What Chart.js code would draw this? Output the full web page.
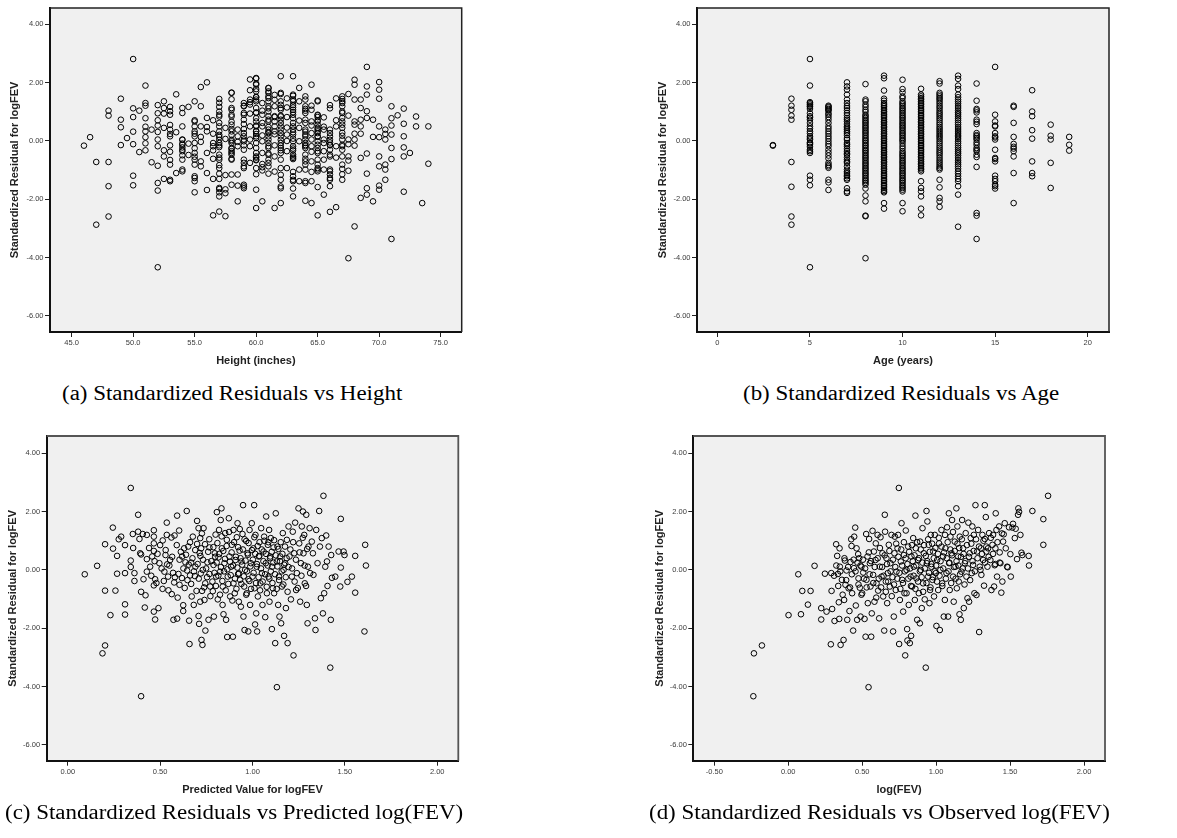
<!DOCTYPE html>
<html>
<head>
<meta charset="utf-8">
<script src="https://cdn.jsdelivr.net/npm/chart.js@4.4.1/dist/chart.umd.min.js"></script>
<style>
  html, body { margin: 0; padding: 0; background: #ffffff; }
  body { width: 1177px; height: 838px; position: relative; overflow: hidden; }
  canvas.plot { position: absolute; }
  .cap { position: absolute; white-space: nowrap; color: #000; font-family: "Liberation Serif", "Times New Roman", serif; font-size: 20px; line-height: 20px; transform-origin: 0 0; }
</style>
</head>
<body>
<canvas class="plot" id="chartHeight"></canvas>
<canvas class="plot" id="chartAge"></canvas>
<canvas class="plot" id="chartPred"></canvas>
<canvas class="plot" id="chartObs"></canvas>
<div class="cap" id="capA">(a) Standardized Residuals vs Height</div>
<div class="cap" id="capB">(b) Standardized Residuals vs Age</div>
<div class="cap" id="capC">(c) Standardized Residuals vs Predicted log(FEV)</div>
<div class="cap" id="capD">(d) Standardized Residuals vs Observed log(FEV)</div>
<script>
// ---------------- DATA ----------------
const residualTicks = [-6, -4, -2, 0, 2, 4];
const heightTicks = [45, 50, 55, 60, 65, 70, 75];
const ageTicks = [0, 5, 10, 15, 20];
const predictedTicks = [0, 0.5, 1, 1.5, 2];
const observedTicks = [-0.5, 0, 0.5, 1, 1.5, 2];

const yTitle = "Standardized Residual for logFEV";
const titleHeight = "Height (inches)";
const titleAge = "Age (years)";
const titlePred = "Predicted Value for logFEV";
const titleObs = "log(FEV)";

const heightValues = [46,46.5,47,48,49,49.5,50,50.5,51,51.5,52,52.5,53,53.5,54,54.5,55,55.5,56,56.5,57,57.5,58,58.5,59,59.5,60,60.5,61,61.5,62,62.5,63,63.5,64,64.5,65,65.5,66,66.5,67,67.5,68,68.5,69,69.5,70,70.5,71,71.5,72,72.5,73,73.5,74];
const heightResiduals = [
  [-0.16],
  [0.13],
  [-0.72,-2.87],
  [1.04,0.87,-0.72,-1.55,-2.59],
  [1.45,0.73,0.47,-0.14],
  [0.10],
  [2.81,1.12,0.82,0.32,-0.11,-1.19,-1.52],
  [1.04,-0.38],
  [1.90,1.30,1.21,0.78,0.49,0.33,0.13,-0.08,-0.32],
  [0.39,-0.73],
  [1.23,0.95,0.71,0.53,0.31,0.05,-0.18,-0.85,-1.44,-1.70,-4.33],
  [1.36,1.13,0.94,0.45,-0.32,-0.53,-1.30],
  [1.17,1.02,0.90,0.55,0.39,0.24,0.16,-0.15,-0.37,-0.65,-0.81,-1.33,-1.38],
  [1.60,0.30,-1.10],
  [1.13,0.50,0.05,-0.09,-0.22,-0.35,-0.49,-1.04,0.96,0.04,-0.13,-0.30,-0.64,-0.98],
  [1.17,-0.09,-0.48],
  [1.36,0.71,0.50,0.25,-0.07,-0.25,-0.54,-0.81,-1.21,-1.38,-1.76,0.67,0.33,0.16,-0.41,-0.64,-1.27],
  [1.85,1.19,0.50,0.14,-0.03,-0.70,-0.87],
  [2.01,0.79,0.48,0.33,-0.41,-1.10,-1.68],
  [0.71,0.25,-0.07,-0.18,-0.32,-0.61,-1.30,-2.55],
  [1.44,1.17,1.01,0.90,0.62,0.50,0.21,0.14,-0.15,-0.21,-0.57,-0.83,-1.12,-1.30,-1.65,-1.76,-1.90,-2.42,1.31,0.84,0.33,0.04,-0.07,-0.47,-0.64,-0.93,-1.61],
  [0.45,0.07,-1.17,-1.66,-1.79,-2.58],
  [1.66,1.43,1.13,0.90,0.66,0.41,0.33,0.21,-0.01,-0.27,-0.35,-0.47,-0.61,-1.15,-1.50,1.65,1.07,0.84,0.56,0.04,-0.07,-0.24,-0.41,-0.64],
  [0.39,0.16,-0.03,-0.18,-1.15,-1.53,-2.07],
  [1.21,0.96,0.58,0.41,0.16,0.05,-0.15,-0.75,-0.93,-1.50,-1.62,1.30,1.19,0.90,0.73,0.27,-0.01,-0.30,-0.64,-0.87,-1.56],
  [2.11,1.74,1.42,1.33,1.25,0.94,0.50,0.05,-0.18,-0.75],
  [2.14,1.97,1.78,1.50,1.42,0.98,0.78,0.53,0.34,0.16,0.10,-0.07,-0.53,-0.57,-0.66,-1.14,-1.67,-2.30,2.16,1.93,1.70,1.51,1.36,1.13,0.96,0.67,0.50,0.33,0.24,-0.24,-0.41,-0.64,-0.93],
  [1.30,1.04,0.90,0.62,0.50,0.19,-0.01,-0.41,-0.79,-0.90,-1.01,-2.07],
  [1.81,1.70,1.47,1.19,1.12,0.85,0.73,0.48,0.31,0.16,0.05,-0.18,-0.43,-0.47,-0.75,-0.87,-1.12,1.82,1.65,1.53,1.36,1.01,0.67,0.39,0.27,-0.07,-0.24,-0.64],
  [1.58,1.41,1.19,0.85,0.82,0.67,0.50,0.33,0.23,-0.15,-0.53,-1.05,-2.30],
  [2.22,1.61,1.36,1.13,1.07,0.87,0.73,0.50,0.27,0.16,-0.16,-0.32,-1.33,-1.62,-2.13,1.65,1.24,0.84,0.62,0.39,0.04,-0.07,-0.24,-0.41,-0.64,-0.93,-1.16,-1.56],
  [1.46,1.15,0.82,0.46,0.22,0.00,-0.35,-0.93],
  [2.22,1.55,1.42,1.23,1.15,0.99,0.78,0.50,0.30,0.08,-0.18,-0.26,-0.32,-0.53,-0.62,-1.06,-1.33,-1.63,-1.90,1.59,1.36,1.07,0.90,0.62,0.39,0.22,-0.01,-0.47,-0.58,-1.21,-1.38],
  [1.82,1.36,0.70,0.45,-0.01,-0.98,-1.38],
  [1.42,1.10,1.04,0.73,0.39,0.32,0.16,0.05,-0.14,-0.24,-0.61,-0.70,-0.98,-1.44,-2.05,1.53,1.19,0.96,0.62,0.22,-0.07,-0.18,-0.47,-0.81,-1.38],
  [1.93,1.21,1.07,0.67,0.53,0.27,0.05,-0.18,-0.37,-0.70,-1.06,-1.38,-2.13],
  [1.39,0.88,0.82,0.71,0.56,0.40,0.27,0.14,-0.13,-0.35,-0.64,-0.93,-1.04,-1.58,-2.55,1.36,0.90,0.67,0.45,0.33,0.16,-0.01,-0.24,-0.41,-0.81,-0.98],
  [0.81,0.49,0.39,0.05,-0.07,-0.35,-0.64,-0.98,-1.84],
  [1.23,1.12,0.27,0.16,-0.05,-0.15,-0.53,-1.04,-1.15,-1.33,-1.55,-2.43,0.39,0.04,-0.13,-0.30,-0.47,-0.98,-1.27],
  [1.46,0.71,0.50,-0.18,-0.57,-2.27],
  [1.44,1.30,1.19,0.96,0.79,0.56,0.18,0.05,-0.18,-0.53,-0.96,-1.14,-1.33,1.53,1.36,1.01,0.67,0.45,0.28,-0.13,-0.30,-0.81],
  [1.61,0.87,0.05,-0.11,-0.53,-0.67,-1.02,-4.02],
  [2.10,1.93,1.42,0.67,0.56,0.25,0.05,-0.16,-2.93],
  [1.42,1.13,0.73,0.50,0.25,-0.58,-1.95],
  [2.54,1.87,1.59,1.02,0.79,-0.43,-1.12,-1.62,-1.84],
  [0.73,0.14,-2.07],
  [2.02,1.76,1.45,0.50,0.13,-0.53,-0.87,-1.53,-1.67],
  [0.39,0.24,0.05,-0.81,-0.98,-1.33],
  [1.19,0.78,0.53,0.22,-0.24,-0.62,-3.36],
  [0.88],
  [1.11,0.59,0.16,-0.22,-0.53,-1.74],
  [-0.41],
  [0.84,0.50],
  [-2.13],
  [0.50,-0.78]
];

const ageValues = [3,4,5,6,7,8,9,10,11,12,13,14,15,16,17,18,19];
const ageResiduals = [
  [-0.14,-0.16],
  [1.45,1.21,1.07,0.87,0.73,-0.72,-1.57,-2.59,-2.87],
  [2.81,1.90,1.33,1.25,1.17,1.10,0.85,0.73,0.62,0.50,0.33,0.16,0.05,-0.05,-0.13,-0.30,-0.41,-1.19,-1.33,-1.52,-4.33,1.30,1.20,0.95,0.80,0.42,0.26,0.10,-0.08,-0.20,-0.35],
  [1.21,1.15,1.10,1.04,0.90,0.73,0.50,0.33,0.16,-0.01,-0.18,-0.30,-0.50,-0.75,-0.87,-1.33,-1.42,-1.68,1.18,1.07,0.95,0.82,0.62,0.42,0.25,0.08,-0.10,-0.40,-0.60,-0.82,-0.92],
  [2.01,1.87,1.76,1.59,1.42,1.30,1.13,0.96,0.79,0.67,0.50,0.39,0.27,0.10,-0.07,-0.18,-0.35,-0.47,-0.64,-0.75,-0.98,-1.10,-1.21,-1.33,-1.62,-1.73,-1.78,1.20,1.05,0.88,0.73,0.58,0.45,0.33,0.20,0.04,-0.12,-0.27,-0.42,-0.56,-0.70,-0.87,-1.05,-1.17,-1.28],
  [1.95,1.42,1.25,1.07,0.90,0.79,0.67,0.56,0.45,0.33,0.22,0.10,-0.01,-0.13,-0.24,-0.35,-0.47,-0.58,-0.70,-0.81,-0.93,-1.04,-1.15,-1.27,-1.38,-1.50,-1.63,-1.87,-2.07,-2.56,-2.58,-4.02,1.36,1.17,1.00,0.85,0.73,0.62,0.50,0.39,0.28,0.16,0.04,-0.07,-0.18,-0.30,-0.41,-0.53,-0.64,-0.76,-0.87,-0.98,-1.10,-1.21,-1.33,-1.44],
  [2.24,2.15,1.73,1.45,1.30,1.19,1.07,0.96,0.85,0.73,0.62,0.50,0.39,0.27,0.16,0.05,-0.07,-0.18,-0.30,-0.41,-0.53,-0.64,-0.75,-0.87,-0.98,-1.10,-1.21,-1.33,-1.44,-1.55,-1.67,-1.76,-2.13,-2.32,1.38,1.24,1.13,1.01,0.90,0.79,0.67,0.56,0.45,0.33,0.22,0.10,-0.01,-0.13,-0.24,-0.36,-0.47,-0.58,-0.70,-0.81,-0.93,-1.04,-1.16,-1.27,-1.38,-1.50,-1.61,-1.72],
  [2.10,1.78,1.67,1.53,1.36,1.25,1.13,1.02,0.90,0.79,0.67,0.56,0.45,0.33,0.22,0.10,-0.01,-0.18,-0.35,-0.47,-0.58,-0.70,-0.81,-0.93,-1.04,-1.15,-1.27,-1.38,-1.50,-1.61,-1.73,-2.13,-2.41,1.47,1.30,1.19,1.08,0.96,0.84,0.73,0.61,0.50,0.39,0.27,0.16,0.04,-0.09,-0.26,-0.41,-0.52,-0.64,-0.75,-0.87,-0.98,-1.10,-1.21,-1.33,-1.44,-1.56,-1.67],
  [1.79,1.59,1.47,1.36,1.25,1.13,1.02,0.90,0.79,0.67,0.56,0.45,0.33,0.22,0.10,-0.01,-0.13,-0.24,-0.35,-0.47,-0.58,-0.70,-0.81,-0.93,-1.04,-1.38,-1.61,-1.73,-1.90,-2.32,-2.55,1.53,1.42,1.30,1.19,1.07,0.96,0.85,0.73,0.62,0.50,0.39,0.27,0.16,0.04,-0.07,-0.18,-0.30,-0.41,-0.53,-0.64,-0.76,-0.87,-0.98],
  [2.05,1.97,1.65,1.53,1.42,1.28,1.13,0.98,0.85,0.71,0.56,0.41,0.27,0.14,-0.01,-0.16,-0.30,-0.43,-0.58,-0.73,-0.87,-0.98,-1.33,-1.59,-1.95,-2.07,-2.26,1.59,1.47,1.35,1.20,1.05,0.92,0.78,0.63,0.48,0.34,0.20,0.07,-0.08,-0.23,-0.37,-0.50,-0.66,-0.80,-0.93],
  [2.24,2.13,1.90,1.78,1.59,1.42,1.28,1.13,0.98,0.85,0.71,0.56,0.41,0.27,0.14,-0.01,-0.16,-0.30,-0.43,-0.58,-0.73,-0.87,-1.04,-1.21,-1.38,-1.55,-1.84,-2.94,1.50,1.35,1.20,1.05,0.92,0.78,0.63,0.48,0.34,0.20,0.07,-0.08,-0.23,-0.37,-0.50,-0.66,-0.80,-0.95,-1.12,-1.30],
  [1.97,1.38,1.10,0.98,0.73,0.58,0.27,0.16,0.05,-0.13,-0.24,-0.35,-0.47,-0.89,-2.47,-2.56,-3.36,1.05,0.66,0.20,0.10,-0.05,-0.30,-0.55],
  [2.54,0.90,0.67,0.53,0.27,0.16,-0.30,-0.58,-0.70,-1.19,-1.38,-1.50,-1.63,0.50,0.12,0.05,-0.62,-1.30,-1.55],
  [1.21,1.17,0.62,0.14,-0.10,-0.26,-0.53,-1.10,-2.13,-0.20,-0.35],
  [1.74,1.01,0.85,0.37,0.08,-0.70,-1.10,-1.21],
  [0.56,0.18,0.05,-0.75,-1.61],
  [0.14,-0.13,-0.33]
];

const predictedPoints = [
  [0.092,-0.15],[0.159,0.14],[0.202,0.88],[0.202,-0.71],[0.188,-2.86],[0.202,-2.59],[0.231,-1.55],[0.244,1.45],[0.245,0.73],[0.258,-0.71],
  [0.267,0.48],[0.267,-0.13],[0.276,1.05],[0.289,1.14],[0.31,0.85],[0.31,-0.11],[0.31,-1.18],[0.31,-1.53],[0.341,2.81],[0.341,0.32],
  [0.341,0.10],[0.352,1.23],[0.354,0.75],[0.361,-0.11],[0.361,-0.38],[0.381,1.89],[0.381,1.31],[0.388,1.06],[0.392,0.57],[0.397,0.53],
  [0.397,-4.33],[0.397,-0.75],[0.406,1.23],[0.41,-0.32],[0.417,-1.29],[0.421,-0.87],[0.428,0.37],[0.428,-0.06],[0.428,1.20],[0.446,0.11],
  [0.457,0.46],[0.466,1.36],[0.466,1.14],[0.466,0.91],[0.466,0.65],[0.466,-0.53],[0.466,-1.43],[0.473,-1.70],[0.473,-0.32],[0.486,0.55],
  [0.491,-1.31],[0.496,0.23],[0.513,-0.65],[0.514,1.01],[0.523,-0.06],[0.529,0.51],[0.536,1.62],[0.536,1.20],[0.538,0.19],[0.543,-0.23],
  [0.554,0.34],[0.561,1.11],[0.563,-0.83],[0.570,-0.10],[0.572,-1.71],[0.576,-0.43],[0.578,1.18],[0.592,-1.67],[0.592,1.86],[0.599,-0.14],
  [0.603,1.35],[0.605,-0.51],[0.619,0.46],[0.625,-1.41],[0.625,-1.21],[0.63,0.74],[0.637,0.26],[0.644,2.02],[0.646,-0.02],[0.652,0.80],
  [0.657,-1.74],[0.659,-2.54],[0.662,-0.19],[0.668,0.25],[0.671,-0.91],[0.677,1.14],[0.682,-1.20],[0.688,-0.21],[0.691,0.11],[0.700,1.68],
  [0.700,0.89],[0.708,1.43],[0.708,-1.58],[0.711,-1.85],[0.717,1.09],[0.717,-1.09],[0.718,0.48],[0.722,0.74],[0.724,-2.40],[0.729,-2.57],
  [0.727,-0.72],[0.731,0.00],[0.735,1.43],[0.740,-1.03],[0.744,-0.46],[0.745,-2.08],[0.756,0.26],[0.762,-1.71],[0.767,0.77],[0.767,-0.14],
  [0.771,-0.57],[0.785,-0.73],[0.789,0.17],[0.791,-1.60],[0.796,0.57],[0.800,1.21],[0.803,-0.23],[0.807,1.98],[0.812,-1.01],[0.816,0.43],
  [0.819,1.37],[0.825,-0.06],[0.828,1.71],[0.832,2.11],[0.834,0.74],[0.838,-1.20],[0.839,-0.57],[0.843,-1.52],[0.848,0.23],[0.852,1.26],
  [0.857,-1.71],[0.861,1.03],[0.863,-2.30],[0.866,-0.23],[0.872,1.77],[0.875,0.46],[0.879,-0.91],[0.884,0.11],[0.888,0.86],[0.894,-2.29],
  [0.897,1.37],[0.897,-0.46],[0.904,-0.80],[0.908,0.34],[0.915,1.12],[0.919,1.60],[0.922,-0.14],[0.926,-1.09],[0.930,0.66],[0.933,-0.34],
  [0.937,-1.26],[0.940,0.29],[0.946,1.23],[0.949,2.22],[0.951,-1.60],[0.955,-0.57],[0.957,-2.06],[0.960,0.00],[0.966,0.99],[0.969,-0.80],
  [0.973,0.57],[0.977,-2.11],[0.978,-0.32],[0.984,1.37],[0.987,-1.20],[0.991,0.23],[0.996,1.60],[1.000,-0.23],[1.005,0.74],[1.009,2.22],
  [1.011,-0.63],[1.014,-1.87],[1.016,1.20],[1.020,-1.49],[1.023,0.11],[1.025,-2.11],[1.029,-0.91],[1.034,0.46],[1.038,0.95],[1.042,-0.46],
  [1.047,1.43],[1.051,-0.11],[1.054,-1.20],[1.060,0.63],[1.063,1.14],[1.069,-1.62],[1.072,0.23],[1.074,1.83],[1.078,-0.80],[1.083,0.86],
  [1.087,-0.23],[1.090,1.37],[1.092,-1.09],[1.096,0.46],[1.099,1.09],[1.105,-2.03],[1.106,0.11],[1.110,-0.63],[1.114,0.77],[1.117,-0.80],
  [1.123,-2.51],[1.126,1.94],[1.132,-4.02],[1.132,0.29],[1.135,0.80],[1.139,-1.20],[1.143,-0.23],[1.146,-1.60],[1.150,0.46],[1.155,-1.83],
  [1.159,-0.57],[1.164,1.26],[1.168,0.00],[1.171,-2.26],[1.177,0.23],[1.181,-1.31],[1.186,1.03],[1.190,-2.51],[1.195,1.49],[1.200,0.46],
  [1.208,-1.01],[1.213,-0.23],[1.218,1.31],[1.222,-2.93],[1.226,0.57],[1.231,1.62],[1.236,-0.69],[1.240,-0.11],[1.249,2.11],[1.253,0.91],
  [1.258,-1.09],[1.262,0.23],[1.267,1.49],[1.273,2.00],[1.276,0.57],[1.280,1.20],[1.283,-0.46],[1.291,1.89],[1.294,-1.20],[1.298,-1.83],
  [1.300,0.11],[1.303,0.80],[1.309,1.43],[1.312,-0.11],[1.321,0.97],[1.327,0.57],[1.330,-0.17],[1.338,-1.66],[1.341,-2.06],[1.345,1.37],
  [1.352,0.23],[1.361,2.02],[1.365,0.80],[1.370,-0.97],[1.375,1.09],[1.381,-1.49],[1.384,2.54],[1.388,-0.80],[1.394,0.11],[1.399,1.18],
  [1.403,0.29],[1.406,-0.55],[1.412,0.80],[1.421,-3.35],[1.424,-1.71],[1.426,0.51],[1.430,-0.27],[1.448,-0.23],[1.466,0.63],[1.475,-0.57],
  [1.478,1.75],[1.478,0.08],[1.493,0.63],[1.498,0.51],[1.514,-0.41],[1.538,-0.23],[1.556,0.48],[1.556,-0.78],[1.606,-2.11],[1.610,0.86],
  [1.614,0.15],
  [0.44,0.75],[0.452,-0.20],[0.47,0.30],[0.48,-0.45],[0.5,0.85],[0.508,0.05],[0.52,-0.38],[0.53,0.68],[0.545,-0.70],[0.55,0.15],
  [0.565,0.45],[0.58,-0.25],[0.59,0.85],[0.595,-0.95],
  [0.605,0.35],[0.612,0.62],[0.618,-0.28],[0.626,0.05],[0.633,-0.62],[0.64,0.52],[0.648,-0.35],[0.655,0.18],[0.662,0.95],[0.668,-0.48],
  [0.675,0.40],[0.683,-0.05],[0.69,0.68],[0.697,-0.72],
  [0.703,0.20],[0.709,-0.30],[0.714,0.58],[0.72,-0.12],[0.726,1.25],[0.732,0.35],[0.738,-0.60],[0.743,0.88],[0.749,0.05],[0.754,-0.25],
  [0.76,0.62],[0.766,1.05],[0.772,-0.90],[0.777,0.30],[0.783,-0.40],[0.788,0.78],[0.794,-0.10],[0.798,0.45],
  [0.802,-0.55],[0.806,0.25],[0.81,0.92],[0.815,-0.20],[0.82,0.55],[0.824,-0.85],[0.829,0.10],[0.833,1.15],[0.837,-0.38],[0.842,0.65],
  [0.846,-0.05],[0.851,0.38],[0.855,-0.70],[0.86,0.82],[0.864,0.02],[0.869,-0.48],[0.873,1.30],[0.878,0.28],[0.882,-0.18],[0.887,0.60],
  [0.891,-1.05],[0.895,0.15],
  [0.9,0.95],[0.905,-0.30],[0.91,0.45],[0.913,-0.65],[0.918,0.08],[0.922,0.78],[0.927,-0.12],[0.931,1.40],[0.935,0.40],[0.94,-0.48],
  [0.944,0.18],[0.948,0.70],[0.953,-0.22],[0.957,1.05],[0.962,0.32],[0.966,-0.85],[0.97,-0.05],[0.975,0.52],[0.979,0.92],[0.983,-0.38],
  [0.988,0.12],[0.992,-0.65],[0.997,0.68],
  [1.002,0.35],[1.006,-0.10],[1.01,1.12],[1.015,0.55],[1.019,-0.45],[1.024,0.20],[1.028,0.82],[1.033,-0.25],[1.037,0.48],[1.041,-0.70],
  [1.046,0.05],[1.05,0.70],[1.055,-0.40],[1.059,0.30],[1.064,1.00],[1.068,-0.15],[1.073,0.55],[1.077,-0.58],[1.082,0.15],[1.086,0.95],
  [1.091,-0.30],[1.095,0.40],[1.099,-0.05],
  [1.104,0.62],[1.108,-0.45],[1.113,0.25],[1.117,1.02],[1.122,-0.15],[1.126,0.50],[1.131,-0.65],[1.135,0.12],[1.14,0.72],[1.144,-0.35],
  [1.149,0.30],[1.153,0.95],[1.158,-0.05],[1.162,0.55],[1.167,-0.50],[1.171,0.18],[1.176,0.80],[1.18,-0.25],[1.185,0.40],[1.19,-0.75],
  [1.195,0.10],
  [1.205,0.70],[1.214,0.05],[1.22,0.95],[1.228,-0.40],[1.235,0.35],[1.245,-0.62],[1.255,0.60],[1.265,-0.20],[1.272,1.10],[1.282,0.15],
  [1.29,-0.55],[1.296,0.72]
];

const observedPoints = [
  [-0.236,-4.33],[-0.232,-2.86],[-0.178,-2.59],[0.002,-1.55],[0.068,-0.15],[0.086,-1.52],[0.095,-0.72],[0.133,-1.19],[0.151,-0.72],[0.178,0.14],
  [0.223,-1.31],[0.223,-1.70],[0.248,-0.13],[0.259,-1.43],[0.288,-2.55],[0.291,-0.11],[0.293,-0.72],[0.297,-1.34],[0.313,-1.75],[0.324,0.88],
  [0.331,0.48],[0.336,-0.14],[0.342,-1.11],[0.345,-1.68],[0.347,0.74],[0.349,0.11],[0.354,-2.57],[0.363,-0.34],[0.374,-2.40],[0.378,-1.03],
  [0.383,0.32],[0.387,-0.51],[0.394,-0.02],[0.399,-1.71],[0.408,-0.63],[0.414,-1.41],[0.421,0.27],[0.426,1.05],[0.428,0.82],[0.432,-0.80],
  [0.439,-2.08],[0.444,0.06],[0.446,1.14],[0.453,1.45],[0.457,-1.22],[0.462,0.74],[0.466,-1.71],[0.473,0.54],[0.475,-0.29],[0.480,0.40],
  [0.484,-0.61],[0.489,-1.60],[0.495,0.11],[0.500,-0.80],[0.507,-0.09],[0.516,-1.68],[0.523,-2.29],[0.527,1.23],[0.529,-0.34],[0.536,0.46],
  [0.538,-1.14],[0.543,-4.02],[0.547,1.06],[0.552,0.23],[0.556,-0.57],[0.561,-2.29],[0.565,-1.49],[0.570,1.34],[0.574,-0.17],[0.579,0.63],
  [0.583,-1.09],[0.590,0.34],[0.592,0.91],[0.597,-0.46],[0.604,1.20],[0.608,-0.71],[0.615,-1.66],[0.619,0.11],[0.624,1.12],[0.631,-0.23],
  [0.637,0.57],[0.642,-0.91],[0.649,-2.08],[0.653,1.89],[0.655,1.31],[0.660,-0.40],[0.664,0.40],[0.669,-1.14],[0.673,-0.11],[0.680,0.86],
  [0.687,-0.57],[0.691,0.23],[0.698,1.20],[0.705,-0.25],[0.709,-2.11],[0.714,-1.60],[0.718,0.57],[0.721,1.14],[0.727,-0.69],[0.732,-0.06],
  [0.739,0.74],[0.743,1.20],[0.748,2.81],[0.750,-2.54],[0.755,-1.03],[0.761,0.29],[0.766,1.60],[0.770,-0.34],[0.777,-1.43],[0.782,0.51],
  [0.786,-0.80],[0.791,-2.93],[0.795,1.35],[0.800,0.00],[0.804,-2.03],[0.806,-2.42],[0.811,0.80],[0.815,-1.20],[0.822,-2.51],[0.827,-0.23],
  [0.831,-2.26],[0.833,0.46],[0.838,-0.57],[0.845,1.09],[0.849,0.11],[0.856,-1.03],[0.860,1.86],[0.863,0.74],[0.867,-0.29],[0.872,-1.71],
  [0.878,0.34],[0.883,-0.80],[0.890,-1.83],[0.892,0.97],[0.896,0.00],[0.903,-1.31],[0.908,1.43],[0.912,-0.46],[0.917,0.57],[0.923,-1.01],
  [0.930,-3.35],[0.935,2.02],[0.937,0.23],[0.941,1.66],[0.946,-0.23],[0.950,0.86],[0.955,-1.14],[0.959,-0.69],[0.964,1.20],[0.968,0.11],
  [0.975,-0.34],[0.980,0.63],[0.986,-0.91],[0.991,1.20],[0.998,-0.11],[1.002,-1.92],[1.007,0.34],[1.014,-0.69],[1.020,0.91],[1.025,-2.06],
  [1.029,0.00],[1.036,1.37],[1.041,-0.46],[1.047,0.46],[1.052,-1.60],[1.059,-1.03],[1.063,0.74],[1.070,-0.11],[1.074,1.46],[1.081,-1.60],
  [1.086,1.94],[1.088,0.23],[1.092,-0.69],[1.097,1.14],[1.104,0.57],[1.108,1.71],[1.115,-0.23],[1.119,-1.09],[1.126,0.97],[1.131,0.11],
  [1.137,2.11],[1.140,-0.63],[1.144,1.49],[1.149,0.46],[1.153,-0.40],[1.158,-1.52],[1.160,1.14],[1.167,-1.71],[1.171,-0.06],[1.176,1.71],
  [1.182,0.74],[1.187,-1.31],[1.194,0.23],[1.200,1.26],[1.205,-0.23],[1.212,-0.97],[1.218,1.62],[1.223,-1.09],[1.227,0.57],[1.234,1.09],
  [1.241,-0.11],[1.245,1.49],[1.250,0.17],[1.255,1.20],[1.259,-0.80],[1.266,2.22],[1.273,-0.86],[1.277,0.63],[1.284,1.37],[1.291,-2.13],
  [1.295,0.11],[1.302,0.74],[1.306,-0.17],[1.313,1.20],[1.318,0.34],[1.324,-0.54],[1.329,1.06],[1.329,2.22],[1.336,1.81],[1.340,0.63],
  [1.347,0.11],[1.351,0.74],[1.358,1.26],[1.367,0.34],[1.374,-0.69],[1.381,0.86],[1.385,1.20],[1.392,-0.57],[1.396,0.16],[1.401,0.74],
  [1.403,1.94],[1.408,1.37],[1.412,-0.23],[1.426,1.49],[1.430,0.25],[1.435,0.23],[1.441,-0.78],[1.448,-0.40],[1.453,0.97],[1.457,1.22],
  [1.464,1.60],[1.471,0.74],[1.480,0.11],[1.484,0.09],[1.493,1.46],[1.502,0.54],[1.505,-0.23],[1.516,1.45],[1.520,1.58],[1.532,1.09],
  [1.538,1.41],[1.547,0.37],[1.554,1.89],[1.556,2.11],[1.561,1.99],[1.570,1.20],[1.577,0.59],[1.583,0.51],[1.626,0.48],[1.628,0.15],
  [1.651,2.02],[1.725,1.74],[1.725,0.86],[1.757,2.54],
  [0.31,-0.20],[0.325,0.15],[0.338,-0.55],[0.352,-0.05],[0.368,-0.85],[0.38,0.40],[0.392,-0.35],[0.405,0.10],[0.418,-0.60],[0.43,-0.15],
  [0.442,0.35],
  [0.455,-0.05],[0.468,0.25],[0.475,-0.50],[0.488,0.15],[0.495,-0.85],[0.505,0.35],[0.512,-0.30],[0.52,0.05],[0.53,-0.60],[0.545,0.60],
  [0.55,-0.15],[0.56,0.30],[0.575,-0.45],[0.585,0.10],[0.595,-0.95],
  [0.605,0.40],[0.612,-0.30],[0.62,0.75],[0.628,-0.60],[0.635,0.10],[0.645,-0.20],[0.652,0.50],[0.66,-0.75],[0.668,0.20],[0.676,-0.40],
  [0.684,0.65],[0.692,-0.05],[0.70,-0.90],[0.708,0.35],[0.715,-0.50],[0.724,0.10],[0.73,0.90],[0.738,-0.30],[0.745,0.45],
  [0.752,-0.10],[0.758,-0.65],[0.764,0.70],[0.77,0.15],[0.776,-0.45],[0.782,0.95],[0.788,-0.05],[0.794,0.40],[0.80,-0.80],[0.806,0.20],
  [0.812,-0.30],[0.818,0.62],[0.824,0.05],[0.83,-0.55],[0.836,0.85],[0.842,0.30],[0.848,-0.20],[0.854,0.50],[0.86,-0.65],[0.866,0.15],
  [0.872,0.95],[0.878,-0.40],[0.884,0.40],[0.89,-0.05],[0.896,0.70],
  [0.902,-0.25],[0.907,0.25],[0.912,-0.75],[0.918,0.85],[0.924,0.05],[0.93,0.48],[0.935,-0.45],[0.94,0.30],[0.946,1.05],[0.952,-0.10],
  [0.957,0.62],[0.962,-0.60],[0.968,0.20],[0.973,0.90],[0.978,-0.25],[0.984,0.40],[0.99,-0.05],[0.995,0.75],[1.0,0.15],[1.006,-0.40],
  [1.012,0.55],[1.018,1.10],[1.023,-0.20],[1.03,0.30],[1.036,0.80],[1.042,-0.55],[1.048,0.05],
  [1.054,0.60],[1.06,1.20],[1.066,-0.30],[1.072,0.40],[1.078,0.95],[1.084,-0.05],[1.09,0.25],[1.096,0.70],[1.102,-0.45],[1.108,0.50],
  [1.114,1.30],[1.12,0.10],[1.126,0.65],[1.132,-0.30],[1.138,0.30],[1.144,0.90],[1.15,0.15],[1.156,0.75],[1.162,-0.15],[1.168,0.45],
  [1.174,1.05],[1.18,0.05],[1.186,0.55],[1.192,-0.50],[1.198,0.30],
  [1.208,0.85],[1.215,0.05],[1.222,0.45],[1.23,-0.35],[1.238,0.90],[1.246,0.30],[1.254,0.65],[1.262,-0.05],[1.27,1.05],[1.28,0.40],
  [1.29,0.80],[1.3,0.00],[1.31,0.55],[1.32,1.00],[1.33,0.25],[1.34,0.80],[1.355,0.45],[1.37,1.10],[1.385,0.55],[1.40,0.20],
  [1.415,0.95],[1.43,0.60],[1.445,1.25]
];

// ---------------- RENDERING ----------------
const SANS = '"Liberation Sans", Arial, Helvetica, sans-serif';
Chart.defaults.font.family = SANS;

const heightPoints = heightValues.flatMap((h, i) => heightResiduals[i].map(r => [h, r]));
const agePoints = ageValues.flatMap((a, i) => ageResiduals[i].map(r => [a, r]));

const framePlugin = {
  id: 'frame',
  beforeDraw(chart, args, opts) {
    const { ctx, chartArea: a } = chart;
    ctx.save();
    ctx.fillStyle = '#f0f0f0';
    ctx.fillRect(a.left, a.top, a.right - a.left, a.bottom - a.top);
    ctx.restore();
  },
  afterDatasetsDraw(chart, args, opts) {
    const { ctx, chartArea: a } = chart;
    ctx.save();
    ctx.strokeStyle = opts.edgeColor || '#222';
    ctx.lineWidth = opts.edgeWidth || 1.5;
    ctx.beginPath();
    ctx.moveTo(a.left, a.top);
    ctx.lineTo(a.right, a.top);
    ctx.lineTo(a.right, a.bottom);
    ctx.stroke();
    ctx.restore();
  }
};

function buildChart(cfg) {
  const { canvasId, frame, canvasLeft, points, xMin, xMax, yMin, yMax, xTicks, xDigits, xTitle, yTitleX, edgeColor, edgeWidth } = cfg;
  const canvasTop = frame.t - 8;
  const W = Math.round(frame.r - canvasLeft + 20);
  const H = Math.round(frame.b - canvasTop + 45);
  const cv = document.getElementById(canvasId);
  cv.width = W; cv.height = H;
  cv.style.left = canvasLeft + 'px'; cv.style.top = canvasTop + 'px';
  cv.style.width = W + 'px'; cv.style.height = H + 'px';
  const lh = 11 * 1.2;
  const tickFont = { family: SANS, size: 7.5 };
  const titleFont = { family: SANS, size: 11, weight: 'bold' };
  return new Chart(cv, {
    type: 'scatter',
    data: {
      datasets: [{
        data: points.map(p => ({ x: p[0], y: p[1] })),
        pointStyle: 'circle',
        pointRadius: 2.8,
        pointHoverRadius: 2.8,
        pointBorderWidth: 1,
        pointBorderColor: '#000',
        pointBackgroundColor: 'rgba(0,0,0,0)',
        showLine: false
      }]
    },
    options: {
      responsive: false,
      animation: false,
      devicePixelRatio: 1,
      events: [],
      layout: { padding: { left: 0, top: 8, right: W - (frame.r - canvasLeft), bottom: H - 45 - (frame.b - canvasTop) } },
      plugins: { legend: { display: false }, tooltip: { enabled: false }, frame: { edgeColor, edgeWidth } },
      scales: {
        x: {
          type: 'linear', position: 'bottom', min: xMin, max: xMax,
          afterBuildTicks: s => { s.ticks = xTicks.map(v => ({ value: v })); },
          afterFit: s => { s.height = 45; },
          ticks: { autoSkip: false, maxRotation: 0, minRotation: 0, padding: 1.5, color: '#3a3a3a', font: tickFont,
                   callback: v => Number(v).toFixed(xDigits) },
          grid: { display: true, drawOnChartArea: false, drawTicks: true, tickLength: 5, color: '#222', lineWidth: 1 },
          border: { display: true, color: '#111', width: 2 },
          title: { display: true, text: xTitle, color: '#222', font: titleFont, padding: { top: 0, bottom: 45 - 29 - lh / 2 } }
        },
        y: {
          type: 'linear', position: 'left', min: yMin, max: yMax,
          afterBuildTicks: s => { s.ticks = residualTicks.map(v => ({ value: v })); },
          afterFit: s => { s.width = frame.l - canvasLeft; },
          ticks: { autoSkip: false, padding: 1.5, color: '#3a3a3a', font: tickFont, callback: v => Number(v).toFixed(2) },
          grid: { display: true, drawOnChartArea: false, drawTicks: true, tickLength: 5, color: '#222', lineWidth: 1 },
          border: { display: true, color: '#111', width: 2 },
          title: { display: true, text: yTitle, color: '#222', font: titleFont, padding: { top: yTitleX - canvasLeft - lh / 2, bottom: 0 } }
        }
      }
    },
    plugins: [framePlugin]
  });
}

buildChart({ canvasId: 'chartHeight', frame: { l: 50, t: 8, r: 461.7, b: 332 }, canvasLeft: 0,
  points: heightPoints, xMin: 43.24, xMax: 76.71, yMin: -6.55, yMax: 4.56,
  xTicks: heightTicks, xDigits: 1, xTitle: titleHeight, yTitleX: 15, edgeColor: '#222', edgeWidth: 1.5 });

buildChart({ canvasId: 'chartAge', frame: { l: 697, t: 8, r: 1109, b: 332 }, canvasLeft: 645,
  points: agePoints, xMin: -1.10, xMax: 21.15, yMin: -6.55, yMax: 4.56,
  xTicks: ageTicks, xDigits: 0, xTitle: titleAge, yTitleX: 663, edgeColor: '#222', edgeWidth: 1.5 });

buildChart({ canvasId: 'chartPred', frame: { l: 46.7, t: 436, r: 458.3, b: 760.7 }, canvasLeft: 0,
  points: predictedPoints, xMin: -0.114, xMax: 2.114, yMin: -6.54, yMax: 4.59,
  xTicks: predictedTicks, xDigits: 2, xTitle: titlePred, yTitleX: 13, edgeColor: '#555', edgeWidth: 1.8 });

buildChart({ canvasId: 'chartObs', frame: { l: 693.3, t: 436, r: 1105, b: 760.7 }, canvasLeft: 645,
  points: observedPoints, xMin: -0.642, xMax: 2.142, yMin: -6.54, yMax: 4.59,
  xTicks: observedTicks, xDigits: 2, xTitle: titleObs, yTitleX: 660, edgeColor: '#555', edgeWidth: 1.8 });

// ---------------- CAPTIONS ----------------
(function placeCaptions() {
  const mctx = document.createElement('canvas').getContext('2d');
  mctx.font = '20px "Liberation Serif", "Times New Roman", serif';
  const w = s => mctx.measureText(s).width;
  const capA = document.getElementById('capA');
  const capB = document.getElementById('capB');
  const capC = document.getElementById('capC');
  const capD = document.getElementById('capD');
  const sx = (461 / w(capC.textContent) + 458 / w(capD.textContent)) / 2;
  const wA = w(capA.textContent) * sx, wB = w(capB.textContent) * sx;
  const wC = w(capC.textContent) * sx, wD = w(capD.textContent) * sx;
  const baseOffset = 16.75;
  const place = (el, left, baseline) => {
    el.style.left = left + 'px';
    el.style.top = (baseline - baseOffset) + 'px';
    el.style.transform = 'scaleX(' + sx + ')';
  };
  place(capA, 232 - wA / 2, 400);
  place(capB, 902 - wB / 2, 400);
  place(capC, 234.5 - wC / 2, 819);
  place(capD, 879 - wD / 2, 819);
})();
</script>
</body>
</html>
